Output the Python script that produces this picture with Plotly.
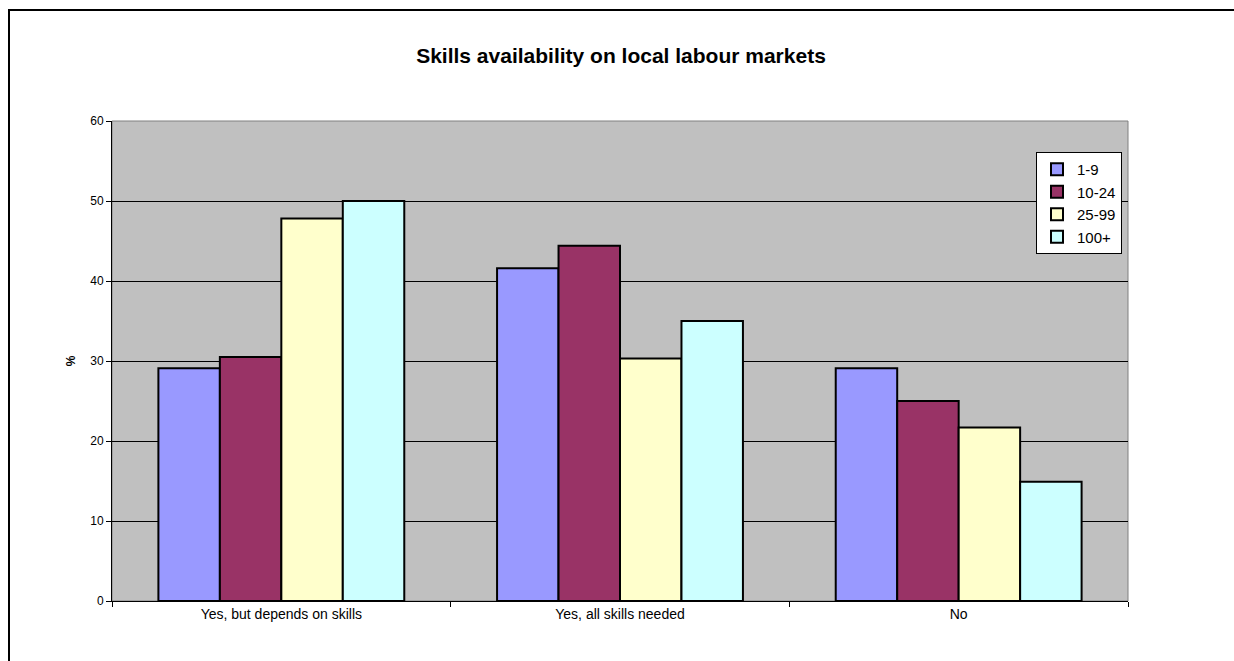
import plotly.graph_objects as go

categories = ["Yes, but depends on skills", "Yes, all skills needed", "No"]
series_names = ["1-9", "10-24", "25-99", "100+"]
values_1_9 = [29.1, 41.6, 29.1]
values_10_24 = [30.5, 44.4, 25.0]
values_25_99 = [47.8, 30.3, 21.7]
values_100_plus = [50.0, 35.0, 14.9]
y_ticks = [0, 10, 20, 30, 40, 50, 60]

series_values = [values_1_9, values_10_24, values_25_99, values_100_plus]
colors = ["#9999FF", "#993366", "#FFFFCC", "#CCFFFF"]

W, H = 1234, 661
ML, MR, MT, MB = 112, 106, 121, 60
pw, ph = W - ML - MR, H - MT - MB

fig = go.Figure()
for name, vals, col in zip(series_names, series_values, colors):
    fig.add_trace(go.Bar(
        x=categories, y=vals, name=name, legendgroup=name,
        marker=dict(color=col, line=dict(color="black", width=2)),
    ))

def px_x(p):
    return (p - ML) / pw

def px_y(p):
    return 1 - (p - MT) / ph

fig.update_layout(
    width=W, height=H,
    margin=dict(l=ML, r=MR, t=MT, b=MB, pad=0),
    paper_bgcolor="white",
    plot_bgcolor="#C0C0C0",
    barmode="group",
    bargap=0.274,
    bargroupgap=0,
    font=dict(family="Arial, Liberation Sans, sans-serif", color="black"),
    title=dict(text="<b>Skills availability on local labour markets</b>",
               x=px_x(621), xanchor="center", xref="paper",
               y=1 - 56 / H, yanchor="middle",
               font=dict(size=21)),
    legend=dict(x=px_x(1036), y=px_y(152), xanchor="left", yanchor="top",
                bgcolor="white", bordercolor="black", borderwidth=1,
                font=dict(size=15), traceorder="grouped", tracegroupgap=0,
                itemwidth=30),
    xaxis=dict(showline=True, linecolor="black", linewidth=1,
               ticks="outside", tickson="boundaries", ticklen=5,
               tickcolor="black", tickfont=dict(size=14),
               showgrid=False, mirror=False),
    yaxis=dict(range=[0, 60], tickvals=y_ticks, showline=True,
               linecolor="black", linewidth=1, ticks="outside", ticklen=5,
               tickcolor="black", tickfont=dict(size=12),
               showgrid=True, gridcolor="black", gridwidth=1,
               zeroline=False,
               title=dict(text="<b>%</b>", font=dict(size=12), standoff=12)),
    shapes=[
        # gray frame of the plotting area
        dict(type="rect", xref="paper", yref="paper", x0=0, y0=0, x1=1, y1=1,
             line=dict(color="#808080", width=1), layer="below"),
        # outer chart border: top and left edges
        dict(type="line", xref="paper", yref="paper",
             x0=px_x(9), y0=px_y(10), x1=px_x(W), y1=px_y(10),
             line=dict(color="black", width=2)),
        dict(type="line", xref="paper", yref="paper",
             x0=px_x(9), y0=px_y(9), x1=px_x(9), y1=px_y(H),
             line=dict(color="black", width=2)),
    ],
)

fig.write_html("out.html")
